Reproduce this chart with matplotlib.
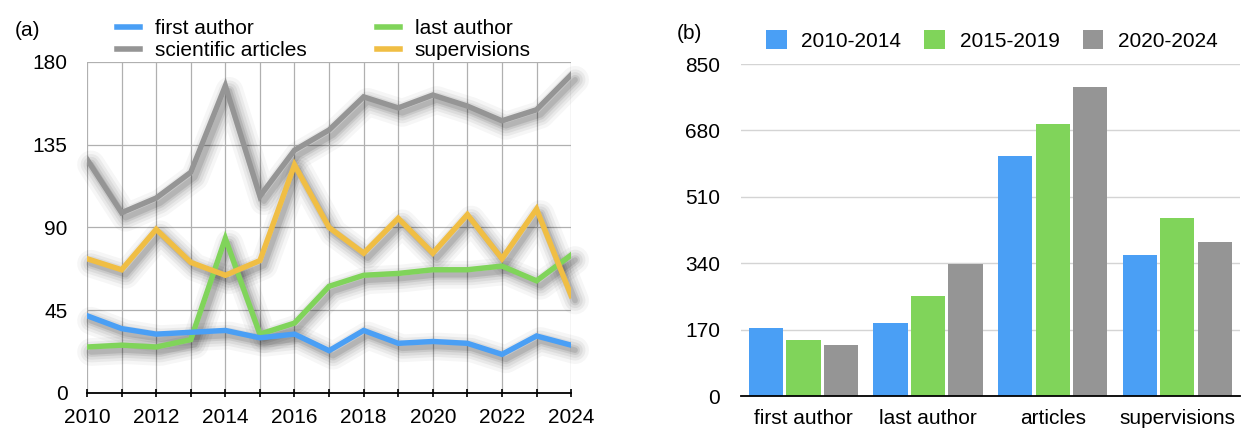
import numpy as np
import matplotlib
matplotlib.use("Agg")
import matplotlib.pyplot as plt
from matplotlib.transforms import offset_copy
from matplotlib.patches import Patch
from matplotlib.lines import Line2D

plt.rcParams['font.family'] = ['Liberation Sans', 'DejaVu Sans']
plt.rcParams['font.size'] = 15

# -------------------------
# Data
# -------------------------

years = np.arange(2010, 2025)

first_author = [42, 35, 32, 33, 34, 30, 32, 23, 34, 27, 28, 27, 21, 31, 26]
last_author = [25, 26, 25, 29, 84, 32, 38, 58, 64, 65, 67, 67, 69, 61, 75]
sci_articles = [127, 98, 106, 120, 167, 107, 132, 143, 161, 155, 162, 156, 148, 154, 173]
supervisions = [73, 67, 89, 71, 64, 72, 124, 90, 76, 95, 76, 97, 73, 100, 53]

categories = ["first author", "last author", "articles", "supervisions"]
periods = ["2010-2014", "2015-2019", "2020-2024"]
period_vals = {
    "2010-2014": [173, 187, 615, 361],
    "2015-2019": [143, 257, 696, 456],
    "2020-2024": [131, 339, 791, 394],
}

C_BLUE = "#4a9ff5"
C_GREEN = "#80d45a"
C_GRAY = "#959595"
C_YELLOW = "#f0be44"

# -------------------------
# Figure
# -------------------------

fig = plt.figure(figsize=(12.56, 4.42), dpi=100)
ax1 = fig.add_axes([0.0693, 0.1109, 0.3854, 0.749])
ax2 = fig.add_axes([0.590, 0.104, 0.397, 0.751])

# ---- (a) line chart ----
series = [
    ("first author", first_author, C_BLUE),
    ("scientific articles", sci_articles, C_GRAY),
    ("last author", last_author, C_GREEN),
    ("supervisions", supervisions, C_YELLOW),
]

# soft drop shadow, faked with stacked translucent strokes
shadow_tr = offset_copy(ax1.transData, fig=fig, x=4, y=-5, units='dots')
for name, vals, col in series:
    for lw, a in [(20, 0.035), (15, 0.05), (11, 0.06), (7, 0.08), (4, 0.10)]:
        ax1.plot(years, vals, color='black', lw=lw, alpha=a, transform=shadow_tr,
                 solid_capstyle='round', solid_joinstyle='round', zorder=1, clip_on=False)

draw_order = [series[2], series[3], series[1], series[0]]
for name, vals, col in draw_order:
    ax1.plot(years, vals, color=col, lw=3.9, solid_joinstyle='miter', zorder=3)

ax1.set_xlim(2010, 2024)
ax1.set_ylim(0, 180)
ax1.set_yticks([0, 45, 90, 135, 180])
ax1.set_xticks(years, minor=True)
ax1.set_xticks(np.arange(2010, 2025, 2))
ax1.grid(True, which='both', axis='x', color='#b0b0b0', lw=0.9)
ax1.grid(True, axis='y', color='#b0b0b0', lw=0.9)
ax1.set_axisbelow(True)
for s in ['left', 'right', 'top']:
    ax1.spines[s].set_visible(False)
ax1.spines['bottom'].set_color('black')
ax1.spines['bottom'].set_linewidth(1.3)
ax1.tick_params(axis='y', length=0, pad=14)
ax1.tick_params(axis='x', which='both', direction='inout', length=6, width=1.2, pad=8)

handles = [Line2D([0], [0], color=c, lw=4) for _, _, c in series]
labels = [n for n, _, _ in series]
ax1.legend(handles, labels, ncol=2, loc='lower left', bbox_to_anchor=(0.062, 1.005),
           frameon=False, handlelength=1.1, handletextpad=0.7, columnspacing=3.4,
           labelspacing=0.15, borderaxespad=0, borderpad=0)
fig.text(0.012, 0.93, "(a)", fontsize=15, va='center', ha='left')

# ---- (b) bar chart ----
x = np.arange(len(categories))
bar_cols = [C_BLUE, C_GREEN, C_GRAY]
for i, p in enumerate(periods):
    ax2.bar(x + (i - 1) * 0.3, period_vals[p], width=0.275, color=bar_cols[i], zorder=2)

ax2.set_xlim(-0.5, 3.5)
ax2.set_ylim(0, 850)
ax2.set_yticks([0, 170, 340, 510, 680, 850])
ax2.set_xticks(x)
ax2.set_xticklabels(categories)
ax2.grid(True, axis='y', color='#d4d4d4', lw=1.0)
ax2.set_axisbelow(True)
for s in ['left', 'right', 'top']:
    ax2.spines[s].set_visible(False)
ax2.spines['bottom'].set_color('black')
ax2.spines['bottom'].set_linewidth(1.3)
ax2.tick_params(axis='y', length=0, pad=15)
ax2.tick_params(axis='x', length=0, pad=9)

bar_handles = [Patch(facecolor=c) for c in bar_cols]
ax2.legend(bar_handles, periods, ncol=3, loc='lower left', bbox_to_anchor=(0.05, 1.04),
           frameon=False, handlelength=1.0, handleheight=1.0, handletextpad=0.7,
           columnspacing=1.1, borderaxespad=0, borderpad=0)
fig.text(0.539, 0.925, "(b)", fontsize=15, va='center', ha='left')

fig.savefig("out.png", dpi=100)
